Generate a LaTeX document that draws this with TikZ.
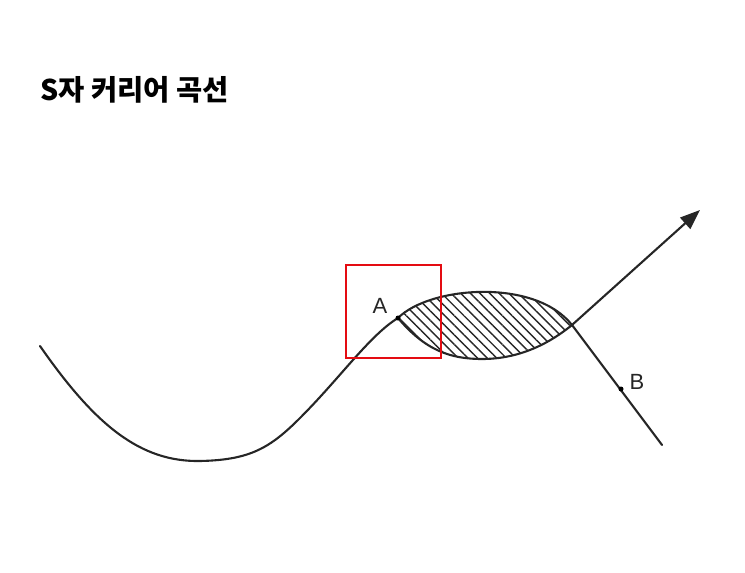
\documentclass[tikz,border=0pt]{standalone}
\usepackage{fontspec}
\setmainfont{Liberation Sans}
\newfontfamily\cjk{Noto Sans CJK KR}
\usetikzlibrary{arrows.meta,patterns.meta}

\definecolor{boxrot}{RGB}{228,12,18}

\tikzset{
  kurve/.style={line width=2.1pt, line cap=round, black!85},
  punkt/.style={circle, fill=black, inner sep=0pt, minimum size=5pt},
  marke/.style={font=\fontsize{22}{24}\selectfont, inner sep=0pt, black!85}
}

\begin{document}
\begin{tikzpicture}[x=1pt,y=-1pt]
  \useasboundingbox (0,0) rectangle (745,573);

  \node[anchor=base west, inner sep=0pt, font=\cjk\bfseries\fontsize{28.5}{31}\selectfont]
    (titel) at (40,100) {S자 커리어 곡선};

  \coordinate (start) at (40,346);
  \coordinate (A) at (398,318);
  \coordinate (X) at (572,325);
  \coordinate (ende) at (662,445);
  \coordinate (spitze) at (700,210);

  % Schraffur
  \fill[pattern={Lines[angle=-45, distance=6.8pt, line width=1.4pt]},
        pattern color=black!85]
    (A) .. controls (430,286) and (535,278) .. (X)
        .. controls (545,347) and (515,359) .. (482,359)
        .. controls (450,359) and (425,350) .. (A);

  \begin{scope}[kurve]
    \draw (start) .. controls (95,425) and (140,462) .. (200,461)
              .. controls (250,460) and (270,448) .. (300,418)
              .. controls (340,378) and (370,335) .. (A)
              .. controls (425,350) and (450,359) .. (482,359)
              .. controls (515,359) and (545,347) .. (X);
    \draw[-{Triangle[length=20pt,width=15pt]}] (X) -- (spitze);
    \draw (A) .. controls (430,286) and (535,278) .. (X) -- (ende);
  \end{scope}

  \node[punkt] (pA) at (A) {};
  \node[punkt] (pB) at (621,389) {};
  \node[marke] at (380,306) {A};
  \node[marke] at (637,382) {B};

  \draw[boxrot, line width=2.8pt] (346,265) rectangle (441,358);
\end{tikzpicture}
\end{document}
